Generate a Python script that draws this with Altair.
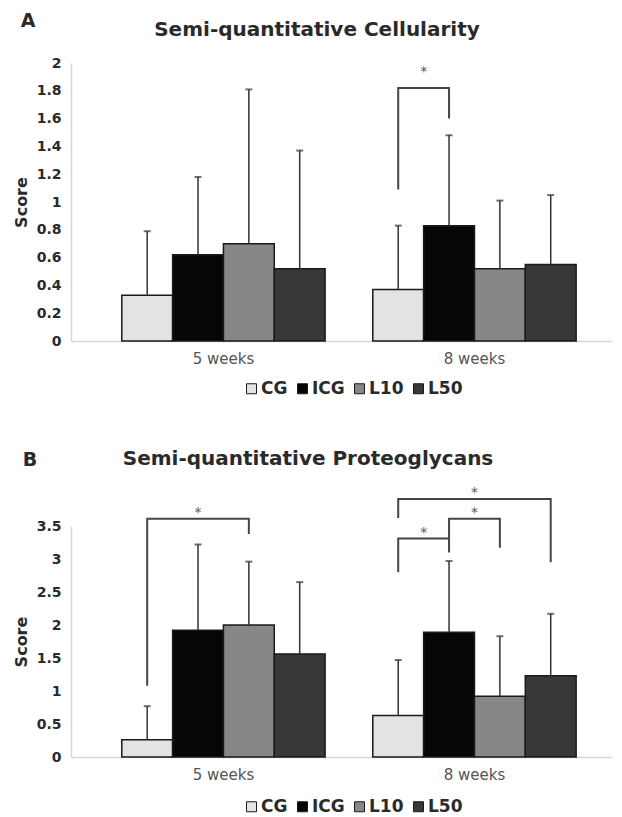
import altair as alt
import pandas as pd

groups = ["CG", "ICG", "L10", "L50"]
weeks = ["5 weeks", "8 weeks"]
bar_colors = ["#e3e3e3", "#060606", "#878787", "#383838"]

cell_mean = [0.33, 0.62, 0.70, 0.52, 0.37, 0.83, 0.52, 0.55]
cell_upper = [0.79, 1.18, 1.81, 1.37, 0.83, 1.48, 1.01, 1.05]
prot_mean = [0.26, 1.92, 2.00, 1.56, 0.63, 1.89, 0.92, 1.23]
prot_upper = [0.77, 3.22, 2.96, 2.65, 1.47, 2.97, 1.83, 2.17]

# significance brackets: week, left group, right group, left foot, top, right foot
cell_brackets = [("8 weeks", "CG", "ICG", 1.09, 1.82, 1.60)]
prot_brackets = [
    ("5 weeks", "CG", "L10", 1.08, 3.61, 3.38),
    ("8 weeks", "CG", "ICG", 2.80, 3.31, 3.10),
    ("8 weeks", "ICG", "L10", 3.31, 3.61, 3.17),
    ("8 weeks", "CG", "L50", 3.62, 3.91, 2.95),
]

cell_ticks = [0, 0.2, 0.4, 0.6, 0.8, 1, 1.2, 1.4, 1.6, 1.8, 2]
prot_ticks = [0, 0.5, 1, 1.5, 2, 2.5, 3, 3.5]

FONT = "DejaVu Sans"
TXT = "#2a2a2a"
W = 541
PI, PO, ALIGN = 0.19, 0.1726, 0.586
STEP = W / (len(weeks) - PI + 2 * PO)
BAR_W = STEP * (1 - PI) / len(groups)


def panel(letter, title, means, uppers, brackets, ticks, height,
          letter_xy, title_xy, legend_xy, star_dy):
    ymax = ticks[-1]
    bars = pd.DataFrame({
        "week": [w for w in weeks for _ in groups],
        "group": groups * len(weeks),
        "mean": means,
        "upper": uppers,
    })
    pts, stars = [], []
    for i, (wk, gl, gr, yl, yt, yr) in enumerate(brackets):
        for j, (g, y) in enumerate([(gl, yl), (gl, yt), (gr, yt), (gr, yr)]):
            pts.append({"id": i, "week": wk, "group": g, "y": y, "o": j})
        mid = (groups.index(gl) + groups.index(gr)) / 2
        k = int(mid)
        stars.append({"week": wk, "group": groups[k], "y": yt, "half": int(mid > k)})
    pts = pd.DataFrame(pts)
    stars = pd.DataFrame(stars)

    x = alt.X("week:N", sort=weeks,
              scale=alt.Scale(paddingInner=PI, paddingOuter=PO, align=ALIGN),
              axis=alt.Axis(title=None, labelAngle=0, labelFont=FONT, labelFontSize=15,
                            labelColor="#555555", labelPadding=10, ticks=False,
                            domainColor="#d6d6d6", domainWidth=1.5))
    xo = alt.XOffset("group:N", sort=groups,
                     scale=alt.Scale(paddingInner=0, paddingOuter=0))
    yaxis = alt.Axis(values=ticks, format="~g", title="Score", ticks=False, grid=False,
                     labelFont=FONT, labelFontSize=14, labelFontWeight="bold",
                     labelColor=TXT, labelPadding=10, domainColor="#d6d6d6",
                     domainWidth=1.5, titleFont=FONT, titleFontSize=16,
                     titleFontWeight="bold", titleColor=TXT, titlePadding=7)
    yscale = alt.Scale(domain=[0, ymax], nice=False)

    def Y(f):
        return alt.Y(f, scale=yscale, axis=yaxis, title="Score")

    base = alt.Chart(bars)
    bar = base.mark_bar(stroke="#1a1a1a", strokeWidth=1.5).encode(
        x=x, xOffset=xo, y=Y("mean:Q"),
        color=alt.Color("group:N", sort=groups,
                        scale=alt.Scale(domain=groups, range=bar_colors),
                        legend=alt.Legend(title=None, orient="none",
                                          legendX=legend_xy[0], legendY=legend_xy[1],
                                          direction="horizontal", symbolType="square",
                                          symbolSize=100, symbolStrokeColor="#1a1a1a",
                                          symbolStrokeWidth=1, labelFont=FONT,
                                          labelFontSize=17, labelFontWeight="bold",
                                          labelColor=TXT, labelOffset=1,
                                          columnPadding=6)),
    )
    err = base.mark_rule(color="#333333", strokeWidth=1.5).encode(
        x=x, xOffset=xo, y=Y("mean:Q"), y2="upper:Q")
    cap = base.mark_tick(color="#333333", size=7, thickness=2).encode(
        x=x, xOffset=xo, y=Y("upper:Q"))
    brk = alt.Chart(pts).mark_line(color="#454545", strokeWidth=2, clip=False,
                                   strokeJoin="miter", strokeCap="butt").encode(
        x=x, xOffset=xo, y=Y("y:Q"), detail="id:N", order="o:Q")
    star_layers = []
    for h in (0, 1):
        star_layers.append(
            alt.Chart(stars).transform_filter(alt.datum.half == h)
            .mark_text(text="*", font=FONT, fontSize=14, fill="#555555",
                       color="#555555", dx=h * BAR_W / 2, dy=star_dy, clip=False)
            .encode(x=x, xOffset=xo, y=Y("y:Q")))
    lab = alt.Chart(pd.DataFrame({"t": [letter]})).mark_text(
        font=FONT, fontSize=19, fontWeight="bold", color=TXT).encode(
        text="t:N", x=alt.value(letter_xy[0]), y=alt.value(letter_xy[1]))
    ttl = alt.Chart(pd.DataFrame({"t": [title]})).mark_text(
        font=FONT, fontSize=20, fontWeight="bold", color=TXT).encode(
        text="t:N", x=alt.value(title_xy[0]), y=alt.value(title_xy[1]))
    return alt.layer(bar, err, cap, brk, *star_layers, lab, ttl).properties(
        width=W, height=height)


a = panel("A", "Semi-quantitative Cellularity", cell_mean, cell_upper, cell_brackets,
          cell_ticks, 278, (-43, -42), (246, -33), (172, 317), -16)
b = panel("B", "Semi-quantitative Proteoglycans", prot_mean, prot_upper, prot_brackets,
          prot_ticks, 231, (-41, -66), (237, -67), (172, 272), -6)

chart = (
    alt.vconcat(a, b, spacing=52)
    .resolve_scale(color="independent", y="independent", x="independent",
                   xOffset="independent")
    .properties(padding={"left": 5, "top": 4, "right": 0, "bottom": 0})
    .configure_view(stroke=None)
)
chart.save("out.html", embed_options={"renderer": "svg", "actions": False})
